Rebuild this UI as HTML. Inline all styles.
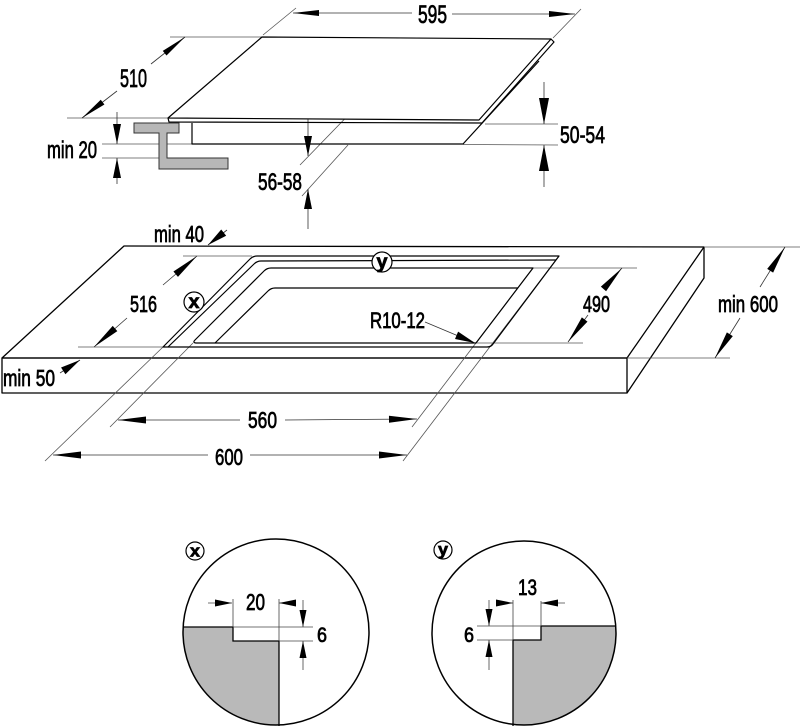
<!DOCTYPE html>
<html><head><meta charset="utf-8"><style>
html,body{margin:0;padding:0;background:#fff;}
svg{display:block;}
text{font-family:"Liberation Sans",Arial,sans-serif;fill:#000;stroke:#000;stroke-width:0.75;}
</style></head><body>
<svg width="800" height="726" viewBox="0 0 800 726" xmlns="http://www.w3.org/2000/svg">
<defs>
<marker id="mt" markerUnits="userSpaceOnUse" markerWidth="28" markerHeight="8" refX="26" refY="3" orient="auto" overflow="visible"><path d="M0,0 L26,3 L0,6 Z" fill="#000" stroke="none"/></marker>
<marker id="mv" markerUnits="userSpaceOnUse" markerWidth="28" markerHeight="12" refX="26" refY="5" orient="auto" overflow="visible"><path d="M0,0 L26,5 L0,10 Z" fill="#000" stroke="none"/></marker>
<marker id="mv2" markerUnits="userSpaceOnUse" markerWidth="22" markerHeight="10" refX="20" refY="4" orient="auto" overflow="visible"><path d="M0,0 L20,4 L0,8 Z" fill="#000" stroke="none"/></marker>
<marker id="mh" markerUnits="userSpaceOnUse" markerWidth="30" markerHeight="8" refX="28" refY="3.5" orient="auto" overflow="visible"><path d="M0,0 L28,3.5 L0,7 Z" fill="#000" stroke="none"/></marker>
<marker id="mr" markerUnits="userSpaceOnUse" markerWidth="22" markerHeight="10" refX="20" refY="4" orient="auto" overflow="visible"><path d="M0,0 L20,4 L0,8 Z" fill="#000" stroke="none"/></marker>
<marker id="ms" markerUnits="userSpaceOnUse" markerWidth="20" markerHeight="8" refX="17" refY="3.5" orient="auto" overflow="visible"><path d="M0,0 L17,3.5 L0,7 Z" fill="#000" stroke="none"/></marker>
<clipPath id="cx"><circle cx="276" cy="632" r="93"/></clipPath>
<clipPath id="cy"><circle cx="524" cy="633" r="92"/></clipPath>
</defs>
<rect width="800" height="726" fill="#fff"/>

<!-- ================= TOP: HOB ================= -->
<g stroke="#555" stroke-width="0.8" fill="none">
  <line x1="263" y1="35" x2="296" y2="8"/>
  <line x1="553" y1="38" x2="581" y2="9"/>
  <line x1="170" y1="37" x2="262" y2="37"/>
  <line x1="67" y1="118" x2="168" y2="118"/>
  <line x1="102" y1="144" x2="192" y2="144"/>
  <line x1="102" y1="158" x2="160" y2="158"/>
  <line x1="300" y1="165" x2="363" y2="100"/>
  <line x1="302" y1="196" x2="348" y2="145"/>
  <line x1="485" y1="124" x2="558" y2="124"/>
  <line x1="463" y1="144.5" x2="558" y2="145"/>
</g>
<g stroke="#333" stroke-width="0.8" fill="none">
  <line x1="412" y1="13" x2="293" y2="13" marker-end="url(#mt)"/>
  <line x1="452" y1="14" x2="575" y2="14" marker-end="url(#mt)"/>
  <line x1="117" y1="91" x2="82" y2="118" marker-end="url(#mt)"/>
  <line x1="151" y1="64" x2="185" y2="37" marker-end="url(#mt)"/>
  <line x1="117" y1="112" x2="117" y2="144" marker-end="url(#mv2)"/>
  <line x1="117" y1="184" x2="117" y2="158" marker-end="url(#mv2)"/>
  <line x1="308" y1="114" x2="308" y2="156" marker-end="url(#mv2)"/>
  <line x1="308" y1="229" x2="308" y2="189" marker-end="url(#mv2)"/>
  <line x1="544" y1="82" x2="544" y2="124" marker-end="url(#mv)"/>
  <line x1="544" y1="187" x2="544" y2="145" marker-end="url(#mv)"/>
</g>
<g stroke="#000" stroke-width="1.2" fill="none" stroke-linejoin="round">
  <path d="M262,37 L551,39 L479,120 L168,118 Z" fill="#fff"/>
  <path d="M168,118 L169,122 L482,123 L554,42 L551,39"/>
  <path d="M192,123 L192,144 L463,144 L539,61"/>
</g>
<path d="M134,123 L179,123 L179,133 L167,133 L167,158 L228,158 L228,169 L159,169 L159,133 L134,133 Z" fill="#b7b7b7" stroke="#333" stroke-width="1"/>

<text x="418" y="23" font-size="25" textLength="29" lengthAdjust="spacingAndGlyphs">595</text>
<text x="120" y="87" font-size="25" textLength="27" lengthAdjust="spacingAndGlyphs">510</text>
<text x="47" y="158" font-size="24" textLength="50" lengthAdjust="spacingAndGlyphs">min 20</text>
<text x="258" y="190" font-size="24" textLength="44" lengthAdjust="spacingAndGlyphs">56-58</text>
<text x="560" y="143" font-size="24" textLength="45" lengthAdjust="spacingAndGlyphs">50-54</text>

<!-- ================= COUNTERTOP ================= -->
<g stroke="#000" stroke-width="1.3" fill="none" stroke-linejoin="round">
  <path d="M124,246 L704,247 L627,358 L2,358 Z"/>
  <rect x="2" y="358" width="625" height="35"/>
  <path d="M627,393 L704,278 L704,247"/>
</g>
<g stroke="#555" stroke-width="0.8" fill="none">
  <line x1="559" y1="256" x2="403" y2="461"/>
  <line x1="163" y1="347" x2="45" y2="461"/>
  <line x1="533" y1="268" x2="412" y2="427"/>
  <line x1="193" y1="343" x2="110" y2="427"/>
  <line x1="183" y1="256" x2="252" y2="256"/>
  <line x1="78" y1="347" x2="163" y2="347"/>
  <line x1="533" y1="268" x2="637" y2="268"/>
  <line x1="476" y1="343" x2="583" y2="343"/>
  <line x1="704" y1="247" x2="800" y2="247"/>
  <line x1="627" y1="358" x2="730" y2="358"/>
</g>
<g stroke="#000" stroke-width="1.2" fill="none" stroke-linejoin="round">
  <path d="M163,347 L250,259 Q253,256 257,256 L559,256 L493,344 Q491,347 487,347 Z"/>
  <path d="M168,347 L254,264 Q257,261 261,261 L556,260"/>
  <path d="M197,343 Q192,343 195,340 L264,271 Q267,268 271,268 L533,268 L476,343 Z"/>
  <path d="M215,343 L268,291 Q271,288 275,288 L518,288"/>
</g>
<g stroke="#333" stroke-width="0.8" fill="none">
  <line x1="227" y1="230" x2="208" y2="245" marker-end="url(#mr)"/>
  <line x1="127" y1="318" x2="94" y2="347" marker-end="url(#mh)"/>
  <line x1="163" y1="285" x2="197" y2="256" marker-end="url(#mh)"/>
  <line x1="60" y1="373" x2="80" y2="360" marker-end="url(#mr)"/>
  <line x1="240" y1="420" x2="118" y2="420" marker-end="url(#mh)"/>
  <line x1="285" y1="420" x2="417" y2="419" marker-end="url(#mh)"/>
  <line x1="208" y1="455" x2="53" y2="455" marker-end="url(#mh)"/>
  <line x1="250" y1="455" x2="407" y2="455" marker-end="url(#mh)"/>
  <line x1="588" y1="315" x2="568" y2="342" marker-end="url(#mh)"/>
  <line x1="607" y1="285" x2="622" y2="268" marker-end="url(#mh)"/>
  <line x1="740" y1="318" x2="715" y2="358" marker-end="url(#mh)"/>
  <line x1="760" y1="287" x2="785" y2="247" marker-end="url(#mh)"/>
  <line x1="425" y1="322" x2="475" y2="343" marker-end="url(#mr)"/>
</g>
<circle cx="382" cy="262" r="10" fill="#fff" stroke="#000" stroke-width="1.2"/>
<circle cx="194" cy="302" r="10" fill="#fff" stroke="#000" stroke-width="1.2"/>
<text x="376.5" y="268" font-size="19" font-weight="bold" textLength="11" lengthAdjust="spacingAndGlyphs" stroke-width="0.2">y</text>
<text x="188.5" y="308" font-size="19" font-weight="bold" textLength="11" lengthAdjust="spacingAndGlyphs" stroke-width="0.2">x</text>

<text x="154" y="242" font-size="23" textLength="50" lengthAdjust="spacingAndGlyphs">min 40</text>
<text x="130" y="312" font-size="23" textLength="27" lengthAdjust="spacingAndGlyphs">516</text>
<text x="3" y="386" font-size="23" textLength="52" lengthAdjust="spacingAndGlyphs">min 50</text>
<text x="248" y="428" font-size="23" textLength="29" lengthAdjust="spacingAndGlyphs">560</text>
<text x="215" y="465" font-size="23" textLength="28" lengthAdjust="spacingAndGlyphs">600</text>
<text x="583" y="312" font-size="23" textLength="27" lengthAdjust="spacingAndGlyphs">490</text>
<text x="718" y="312" font-size="23" textLength="60" lengthAdjust="spacingAndGlyphs">min 600</text>
<text x="370" y="328" font-size="22" textLength="55" lengthAdjust="spacingAndGlyphs">R10-12</text>

<!-- ================= DETAIL X ================= -->
<g clip-path="url(#cx)">
  <polygon points="170,627 233,627 233,641 279,641 279,740 170,740" fill="#b9b9b9"/>
</g>
<circle cx="276" cy="632" r="93" fill="none" stroke="#000" stroke-width="1.5"/>
<path d="M183,627 L233,627 L233,641 L279,641 L279,726" fill="none" stroke="#000" stroke-width="1.3"/>
<g stroke="#444" stroke-width="0.8" fill="none">
  <line x1="233" y1="599" x2="233" y2="627"/>
  <line x1="279" y1="599" x2="279" y2="641"/>
  <line x1="233" y1="627" x2="313" y2="627"/>
  <line x1="279" y1="641" x2="313" y2="641"/>
  <line x1="208" y1="603" x2="232" y2="603" marker-end="url(#ms)"/>
  <line x1="296" y1="603" x2="279" y2="603" marker-end="url(#ms)"/>
  <line x1="303" y1="600" x2="303" y2="627" marker-end="url(#ms)"/>
  <line x1="303" y1="670" x2="303" y2="641" marker-end="url(#ms)"/>
</g>
<text x="246" y="610" font-size="23" textLength="19" lengthAdjust="spacingAndGlyphs">20</text>
<text x="317" y="642" font-size="21" textLength="10" lengthAdjust="spacingAndGlyphs">6</text>
<circle cx="195" cy="551" r="9" fill="#fff" stroke="#000" stroke-width="1.2"/>
<text x="190" y="556.5" font-size="17" font-weight="bold" textLength="10" lengthAdjust="spacingAndGlyphs" stroke-width="0.2">x</text>

<!-- ================= DETAIL Y ================= -->
<g clip-path="url(#cy)">
  <polygon points="630,626 541,626 541,640 513,640 513,740 630,740" fill="#b9b9b9"/>
</g>
<circle cx="524" cy="633" r="92" fill="none" stroke="#000" stroke-width="1.5"/>
<path d="M616,626 L541,626 L541,640 L513,640 L513,726" fill="none" stroke="#000" stroke-width="1.3"/>
<g stroke="#444" stroke-width="0.8" fill="none">
  <line x1="513" y1="600" x2="513" y2="640"/>
  <line x1="541" y1="601" x2="541" y2="626"/>
  <line x1="477" y1="626" x2="541" y2="626"/>
  <line x1="477" y1="640" x2="513" y2="640"/>
  <line x1="496" y1="603" x2="513" y2="603" marker-end="url(#ms)"/>
  <line x1="565" y1="603" x2="541" y2="603" marker-end="url(#ms)"/>
  <line x1="489" y1="600" x2="489" y2="626" marker-end="url(#ms)"/>
  <line x1="489" y1="670" x2="489" y2="640" marker-end="url(#ms)"/>
</g>
<text x="518" y="595" font-size="22" textLength="19" lengthAdjust="spacingAndGlyphs">13</text>
<text x="464" y="642" font-size="21" textLength="10" lengthAdjust="spacingAndGlyphs">6</text>
<circle cx="443" cy="550" r="9" fill="#fff" stroke="#000" stroke-width="1.2"/>
<text x="438" y="555" font-size="17" font-weight="bold" textLength="10" lengthAdjust="spacingAndGlyphs" stroke-width="0.2">y</text>
</svg>
</body></html>
